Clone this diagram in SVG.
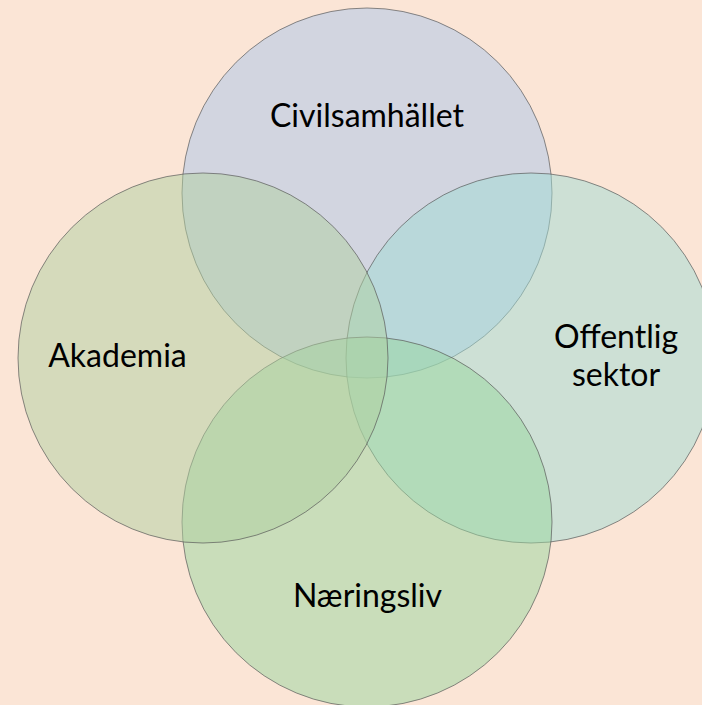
<svg xmlns="http://www.w3.org/2000/svg" width="702" height="705" viewBox="0 0 702 705">
  <style>
    .c { fill-opacity: 0.5; stroke: #5a5a5a; stroke-opacity: 0.7; stroke-width: 1; }
    .t { font-family: Lato, "Open Sans", "Liberation Sans", sans-serif; font-size: 32px; fill: #000; text-anchor: middle; }
  </style>
  <rect x="0" y="0" width="702" height="705" fill="#FBE5D6"/>
  <g id="connectors"/>
  <g id="civilsamhallet">
    <circle class="c" cx="367" cy="193" r="185" fill="#A9C5EA"/>
    <text class="t" x="367" y="127">Civilsamhället</text>
  </g>
  <g id="offentlig-sektor">
    <circle class="c" cx="531" cy="358" r="185" fill="#9FDBD4"/>
    <text class="t" x="616" y="348">Offentlig</text>
    <text class="t" x="616" y="386">sektor</text>
  </g>
  <g id="naringsliv">
    <circle class="c" cx="367" cy="522" r="185" fill="#97D59E"/>
    <text class="t" x="367.5" y="607">Næringsliv</text>
  </g>
  <g id="akademia">
    <circle class="c" cx="203" cy="358" r="185" fill="#AFCFA0"/>
    <text class="t" x="117.5" y="367">Akademia</text>
  </g>
</svg>
